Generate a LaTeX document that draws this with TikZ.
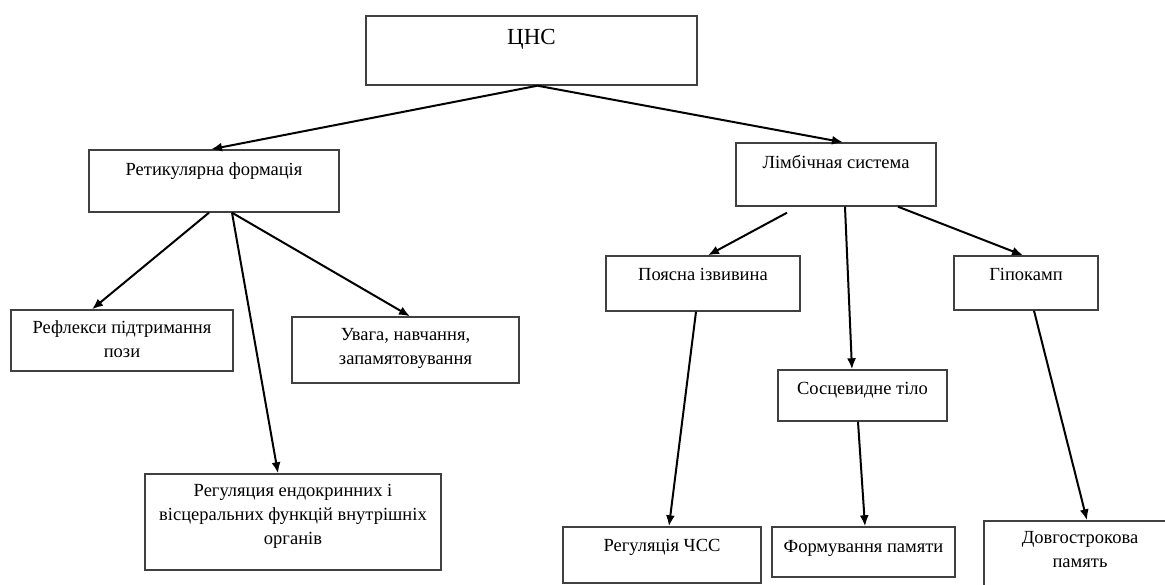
\documentclass[tikz,border=0pt]{standalone}
\usepackage{fontspec}
\setmainfont{Liberation Serif}
\usepackage{tikz}
\usetikzlibrary{calc}
\usetikzlibrary{arrows.meta}
\tikzstyle{box}=[draw=black!75, line width=1.4pt, rectangle, inner sep=0pt]
\tikzstyle{txt}=[anchor=north, align=center, inner sep=0pt, yshift=-13pt, font=\fontsize{18.5}{24}\selectfont]
\tikzstyle{link}=[-{Latex[length=11pt,width=9pt]}, line width=2pt]

\begin{document}
\begin{tikzpicture}[x=1pt,y=-1pt]
\useasboundingbox (0,0) rectangle (1165,585);
\clip (0,0) rectangle (1165,585);
\node[box, minimum width=331pt, minimum height=69pt, label={[txt,yshift=-1pt,font=\fontsize{23}{28}\selectfont]north:ЦНС}] (cns) at (531.5,50.5) {};
\node[box, minimum width=250pt, minimum height=62pt, label={[txt]north:Ретикулярна формація}] (ret) at (214,181) {};
\node[box, minimum width=200pt, minimum height=63pt, label={[txt]north:Лімбічная система}] (limb) at (836,174.5) {};
\node[box, minimum width=222pt, minimum height=61pt, label={[txt,yshift=2pt]north:{Рефлекси підтримання\\пози}}] (refl) at (122,340.5) {};
\node[box, minimum width=227pt, minimum height=66pt, label={[txt,yshift=1pt]north:{Увага, навчання,\\запамятовування}}] (uvaga) at (405.5,350) {};
\node[box, minimum width=296pt, minimum height=96pt, label={[txt,yshift=2pt]north:{Регуляция ендокринних і\\вісцеральних функцій внутрішніх\\органів}}] (endo) at (293,522) {};
\node[box, minimum width=194pt, minimum height=55pt, label={[txt]north:Поясна ізвивина}] (poyas) at (703,283.5) {};
\node[box, minimum width=144pt, minimum height=54pt, label={[txt]north:Гіпокамп}] (hipo) at (1026,283) {};
\node[box, minimum width=169pt, minimum height=51pt, label={[txt]north:Сосцевидне тіло}] (sosc) at (862.5,395.5) {};
\node[box, minimum width=198pt, minimum height=56pt, label={[txt]north:Регуляція ЧСС}] (chss) at (662,555) {};
\node[box, minimum width=183pt, minimum height=50pt, label={[txt,yshift=-1pt]north:Формування памяти}] (form) at (863.5,552) {};
\node[box, minimum width=192pt, minimum height=80pt, label={[txt,yshift=2pt]north:{Довгострокова\\память}}] (dovg) at (1080,561) {};
\draw[link] ($(cns.south)+(6,0)$) -- ($(ret.north)+(-3,0)$);
\draw[link] ($(cns.south)+(6,0)$) -- ($(limb.north)+(7,0)$);
\draw[link] ($(ret.south)+(-5,0)$) -- ($(refl.north)+(-30,0)$);
\draw[link] ($(ret.south)+(18,0)$) -- ($(endo.north)+(-15,0)$);
\draw[link] ($(ret.south)+(18,0)$) -- ($(uvaga.north)+(4.5,0)$);
\draw[link] ($(limb.south)+(-49,6)$) -- ($(poyas.north)+(5,0)$);
\draw[link] ($(limb.south)+(9,0)$) -- ($(sosc.north)+(-10.5,0)$);
\draw[link] ($(limb.south)+(62,0)$) -- ($(hipo.north)+(-3,0)$);
\draw[link] ($(poyas.south)+(-7,0)$) -- ($(chss.north)+(7,0)$);
\draw[link] ($(hipo.south)+(8,0)$) -- ($(dovg.north)+(7,0)$);
\draw[link] ($(sosc.south)+(-4.5,0)$) -- ($(form.north)+(1.5,0)$);
\end{tikzpicture}
\end{document}
